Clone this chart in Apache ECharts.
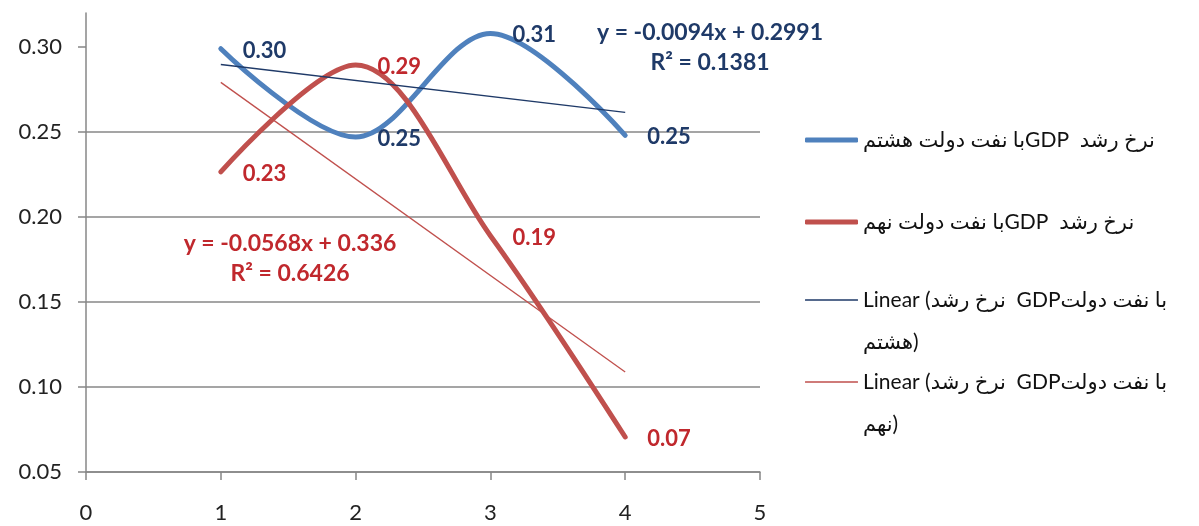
<!DOCTYPE html>
<html>
<head>
<meta charset="utf-8">
<script src="https://cdn.jsdelivr.net/npm/echarts@6/dist/echarts.min.js"></script>
<style>
html,body{margin:0;padding:0;background:#fff;}
#chart{width:1199px;height:526px;}
</style>
</head>
<body>
<div id="chart"></div>
<script>
// ---- data ----
const xValues = [1, 2, 3, 4];
const blueValues = [0.299, 0.247, 0.308, 0.248];
const redValues = [0.2265, 0.2894, 0.189, 0.0706];
const trendX = [1, 4];
const blueTrendValues = [0.2897, 0.2615];
const redTrendValues = [0.2792, 0.1088];
const yTicks = [0.05, 0.10, 0.15, 0.20, 0.25, 0.30];
const xTicks = [0, 1, 2, 3, 4, 5];
const seriesNames = [
  'نرخ رشد  GDPبا نفت دولت هشتم',
  'نرخ رشد  GDPبا نفت دولت نهم',
  'Linear (نرخ رشد  GDPبا نفت دولت هشتم)',
  'Linear (نرخ رشد  GDPبا نفت دولت نهم)'
];
const blueEquation = ['y = -0.0094x + 0.2991', 'R² = 0.1381'];
const redEquation = ['y = -0.0568x + 0.336', 'R² = 0.6426'];

const pairs = (xs, ys) => xs.map((x, i) => [x, ys[i]]);

const BLUE = '#4F81BD', RED = '#C0504D';
const BLUE_TXT = '#1F3A68', RED_TXT = '#C0282D';
const TREND_BLUE = '#1F3A68';
const AXIS = '#878787';
const FONT = 'Lato, "DejaVu Sans", sans-serif';

const chart = echarts.init(document.getElementById('chart'));

function rtlFmt(name) { return '\u202B' + name + '\u202C'; }
function wrapFmt(name) {
  const i = name.lastIndexOf(' ');
  return '\n' + name.slice(0, i) + '\n' + name.slice(i + 1);
}
function legendItem(idx, top) {
  const two = idx >= 2;
  return {
    data: [seriesNames[idx]],
    orient: 'vertical',
    left: 805,
    top: top,
    padding: 0,
    icon: 'roundRect',
    itemWidth: 53,
    itemHeight: two ? 1.6 : 5,
    selectedMode: false,
    formatter: two ? wrapFmt : rtlFmt,
    textStyle: {
      fontFamily: FONT, fontSize: 21, color: '#111',
      lineHeight: two ? 42 : 24
    }
  };
}

const labelStyle = (color) => ({
  show: true,
  position: 'right',
  distance: 22,
  offset: [0, 2],
  color: color,
  opacity: 1,
  fontFamily: FONT,
  fontWeight: 'bold',
  fontSize: 22,
  formatter: (p) => p.value[1].toFixed(2)
});

const option = {
  animation: false,
  backgroundColor: '#fff',
  grid: { left: 86, right: 439, top: 13, bottom: 54, containLabel: false },
  xAxis: {
    type: 'value',
    min: 0, max: 5, interval: 1,
    axisLine: { show: true, onZero: false, lineStyle: { color: AXIS, width: 1.5 } },
    axisTick: { show: true, length: 8, lineStyle: { color: AXIS, width: 1.5 }, customValues: xTicks },
    axisLabel: { customValues: xTicks, margin: 30, color: '#222', fontFamily: FONT, fontSize: 22 },
    splitLine: { show: false }
  },
  yAxis: {
    type: 'value',
    min: 0.05, max: 0.32, interval: 0.05,
    axisLine: { show: true, lineStyle: { color: AXIS, width: 1.5 } },
    axisTick: { show: true, length: 8, lineStyle: { color: AXIS, width: 1.5 }, customValues: yTicks },
    axisLabel: {
      customValues: yTicks, margin: 24, color: '#222', fontFamily: FONT, fontSize: 22,
      padding: [0, 0, 8, 0],
      formatter: (v) => v.toFixed(2)
    },
    splitLine: { show: true, showMaxLine: false, lineStyle: { color: AXIS, width: 1.5 } }
  },
  legend: [
    legendItem(0, 128),
    legendItem(1, 210),
    legendItem(2, 237),
    legendItem(3, 319)
  ],
  series: [
    {
      name: seriesNames[0], type: 'line', smooth: 0.33, symbol: 'none',
      data: pairs(xValues, blueValues),
      lineStyle: { color: BLUE, width: 5, cap: 'round' },
      itemStyle: { color: BLUE }, z: 2
    },
    {
      name: seriesNames[1], type: 'line', smooth: 0.33, symbol: 'none',
      data: pairs(xValues, redValues),
      lineStyle: { color: RED, width: 5, cap: 'round' },
      itemStyle: { color: RED }, z: 2
    },
    {
      name: seriesNames[2], type: 'line', symbol: 'none',
      data: pairs(trendX, blueTrendValues),
      lineStyle: { color: TREND_BLUE, width: 1.3 },
      itemStyle: { color: TREND_BLUE }, z: 3
    },
    {
      name: seriesNames[3], type: 'line', symbol: 'none',
      data: pairs(trendX, redTrendValues),
      lineStyle: { color: RED, width: 1.3 },
      itemStyle: { color: RED }, z: 3
    },
    {
      name: 'labels-blue', type: 'scatter', symbolSize: 0, silent: true,
      data: pairs(xValues, blueValues),
      itemStyle: { color: BLUE, opacity: 1 },
      label: labelStyle(BLUE_TXT), z: 5
    },
    {
      name: 'labels-red', type: 'scatter', symbolSize: 0, silent: true,
      data: pairs(xValues, redValues),
      itemStyle: { color: RED, opacity: 1 },
      label: labelStyle(RED_TXT), z: 5
    }
  ],
  graphic: [
    { type: 'text', x: 710, y: 33, z: 10, style: { text: blueEquation[0], fill: BLUE_TXT, font: 'bold 23px ' + FONT, textAlign: 'center', textVerticalAlign: 'middle' } },
    { type: 'text', x: 710, y: 63, z: 10, style: { text: blueEquation[1], fill: BLUE_TXT, font: 'bold 23px ' + FONT, textAlign: 'center', textVerticalAlign: 'middle' } },
    { type: 'text', x: 290, y: 244, z: 10, style: { text: redEquation[0], fill: RED_TXT, font: 'bold 23px ' + FONT, textAlign: 'center', textVerticalAlign: 'middle' } },
    { type: 'text', x: 290, y: 274, z: 10, style: { text: redEquation[1], fill: RED_TXT, font: 'bold 23px ' + FONT, textAlign: 'center', textVerticalAlign: 'middle' } }
  ]
};
chart.setOption(option);
</script>
</body>
</html>
